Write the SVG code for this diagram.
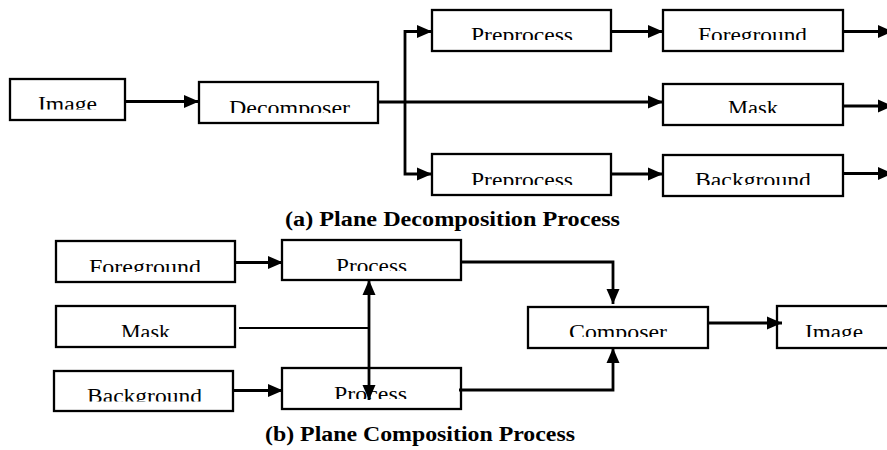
<svg xmlns="http://www.w3.org/2000/svg" width="887" height="450" viewBox="0 0 887 450">
<style>
.box{fill:#fff;stroke:#000;stroke-width:2.3}
.lbl{font-family:'Liberation Serif',serif;font-size:20px;fill:#000}
.cap{font-family:'Liberation Serif',serif;font-size:20px;font-weight:bold;fill:#000}
.con{fill:none;stroke:#000;stroke-width:2.8}
.thin{fill:none;stroke:#000;stroke-width:1.8}
</style>
<defs>
<marker id="ah" markerUnits="userSpaceOnUse" markerWidth="16" markerHeight="14" refX="15" refY="7" orient="auto-start-reverse" viewBox="0 0 16 14">
<path d="M0,0.5 L15,7 L0,13.5 Z" fill="#000"/>
</marker>
<clipPath id="c1"><rect x="0" y="80" width="887" height="29.5"/></clipPath>
<clipPath id="c2"><rect x="0" y="83" width="887" height="30"/></clipPath>
<clipPath id="c3"><rect x="0" y="11" width="887" height="29"/></clipPath>
<clipPath id="c4"><rect x="0" y="155" width="887" height="30"/></clipPath>
<clipPath id="c5"><rect x="0" y="242" width="270" height="30"/></clipPath>
<clipPath id="c6"><rect x="270" y="241" width="200" height="30"/></clipPath>
<clipPath id="c7"><rect x="0" y="307" width="887" height="30"/></clipPath>
<clipPath id="c8"><rect x="0" y="372" width="270" height="29.5"/></clipPath>
<clipPath id="c9"><rect x="270" y="369" width="200" height="30"/></clipPath>
</defs>
<g id="image-in"><rect class="box" x="10" y="79" width="115" height="41"/><text class="lbl" x="38" y="111" textLength="59" lengthAdjust="spacingAndGlyphs" clip-path="url(#c1)">Image</text></g>
<g id="decomposer"><rect class="box" x="199" y="82" width="179" height="41"/><text class="lbl" x="229" y="114.5" textLength="121" lengthAdjust="spacingAndGlyphs" clip-path="url(#c2)">Decomposer</text></g>
<g id="preprocess-1"><rect class="box" x="432" y="10" width="179" height="41"/><text class="lbl" x="471" y="41.5" textLength="102" lengthAdjust="spacingAndGlyphs" clip-path="url(#c3)">Preprocess</text></g>
<g id="foreground-1"><rect class="box" x="663" y="10" width="180" height="41"/><text class="lbl" x="698" y="41.5" textLength="109" lengthAdjust="spacingAndGlyphs" clip-path="url(#c3)">Foreground</text></g>
<g id="mask-1"><rect class="box" x="663" y="84" width="180" height="41"/><text class="lbl" x="728" y="114.5" textLength="50" lengthAdjust="spacingAndGlyphs" clip-path="url(#c2)">Mask</text></g>
<g id="preprocess-2"><rect class="box" x="432" y="154" width="179" height="41"/><text class="lbl" x="471" y="186.5" textLength="102" lengthAdjust="spacingAndGlyphs" clip-path="url(#c4)">Preprocess</text></g>
<g id="background-1"><rect class="box" x="663" y="155" width="180" height="41"/><text class="lbl" x="695" y="186.5" textLength="116" lengthAdjust="spacingAndGlyphs" clip-path="url(#c4)">Background</text></g>
<g id="caption-a"><text class="cap" x="285" y="226" textLength="335" lengthAdjust="spacingAndGlyphs">(a) Plane Decomposition Process</text></g>
<g id="foreground-2"><rect class="box" x="56" y="241" width="179" height="41"/><text class="lbl" x="89" y="273.5" textLength="112" lengthAdjust="spacingAndGlyphs" clip-path="url(#c5)">Foreground</text></g>
<g id="process-1"><rect class="box" x="282" y="240" width="179" height="40"/><text class="lbl" x="336" y="272.5" textLength="71" lengthAdjust="spacingAndGlyphs" clip-path="url(#c6)">Process</text></g>
<g id="mask-2"><rect class="box" x="56" y="306" width="179" height="41"/><text class="lbl" x="121" y="338.5" textLength="49" lengthAdjust="spacingAndGlyphs" clip-path="url(#c7)">Mask</text></g>
<g id="background-2"><rect class="box" x="54" y="371" width="179" height="40"/><text class="lbl" x="87" y="403" textLength="115" lengthAdjust="spacingAndGlyphs" clip-path="url(#c8)">Background</text></g>
<g id="process-2"><rect class="box" x="282" y="368" width="179" height="41"/><text class="lbl" x="334" y="400.5" textLength="73" lengthAdjust="spacingAndGlyphs" clip-path="url(#c9)">Process</text></g>
<g id="composer"><rect class="box" x="528" y="307" width="180" height="41"/><text class="lbl" x="569" y="338.5" textLength="98" lengthAdjust="spacingAndGlyphs" clip-path="url(#c7)">Composer</text></g>
<g id="image-out"><rect class="box" x="777" y="306" width="114" height="42"/><text class="lbl" x="805" y="338.5" textLength="58" lengthAdjust="spacingAndGlyphs" clip-path="url(#c7)">Image</text></g>
<g id="caption-b"><text class="cap" x="265" y="441" textLength="310" lengthAdjust="spacingAndGlyphs">(b) Plane Composition Process</text></g>
<g id="connectors">
<path class="con" d="M126,101.5 H199" marker-end="url(#ah)"/>
<path class="con" d="M378,102 H663" marker-end="url(#ah)"/>
<path class="con" d="M405,102 V31.5 H432" marker-end="url(#ah)"/>
<path class="con" d="M405,102 V174 H432" marker-end="url(#ah)"/>
<path class="con" d="M611,31.5 H663" marker-end="url(#ah)"/>
<path class="con" d="M611,174 H663" marker-end="url(#ah)"/>
<path class="con" d="M844,31.5 H893" marker-end="url(#ah)"/>
<path class="con" d="M844,106 H893" marker-end="url(#ah)"/>
<path class="con" d="M844,173.5 H893" marker-end="url(#ah)"/>
<path class="con" d="M236,262.5 H283" marker-end="url(#ah)"/>
<path class="con" d="M234,390.5 H283" marker-end="url(#ah)"/>
<path class="thin" d="M239,328 H369"/>
<path class="con" d="M369,280 V400" marker-start="url(#ah)" marker-end="url(#ah)"/>
<path class="con" d="M462,262 H613 V304" marker-end="url(#ah)"/>
<path class="con" d="M459,390 H613 V348" marker-end="url(#ah)"/>
<path class="con" d="M709,323 H782" marker-end="url(#ah)"/>
</g>
</svg>
